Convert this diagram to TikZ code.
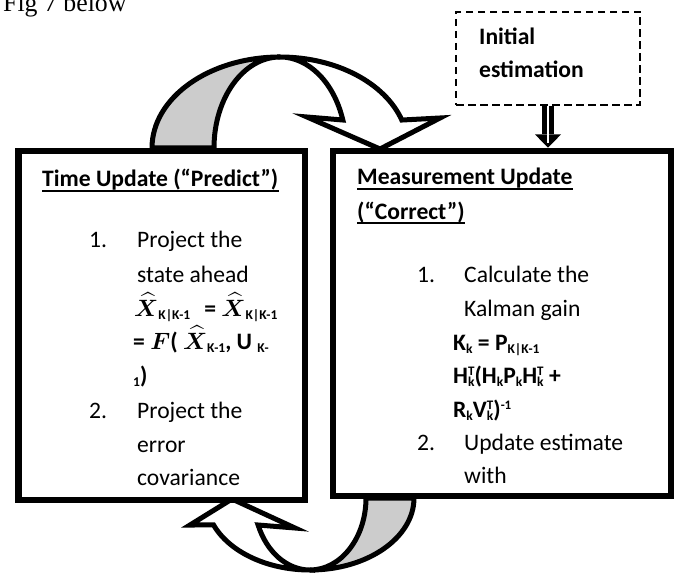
\RequirePackage{fix-cm}
\documentclass[tikz,border=0pt]{standalone}
\usepackage{amsmath}
\usepackage{fontspec}
\setmainfont{Carlito}
\newfontfamily\timesfont{Liberation Serif}
\usetikzlibrary{calc}
\definecolor{bandgrey}{RGB}{204,204,204}
\newcommand{\bodyfont}{\fontsize{23.6bp}{34bp}\selectfont}
\newcommand{\sbs}[1]{\raisebox{-3.5bp}[0pt][0pt]{\fontsize{13.5bp}{14bp}\selectfont #1}}
\newcommand{\sps}[1]{\raisebox{7.5bp}[0pt][0pt]{\fontsize{13bp}{14bp}\selectfont #1}}
\newcommand{\tk}{\rlap{\sps{T}}\sbs{k}}
\newcommand{\xhat}{$\boldsymbol{\widehat{X}}$}

\begin{document}
\begin{tikzpicture}[x=1bp,y=-1bp,line join=miter,
  box/.style={draw,line width=6.5bp,fill=white,inner sep=0pt},
  dbox/.style={draw,line width=2.8bp,dash pattern=on 7.5bp off 4.5bp,inner sep=0pt},
  band/.style={draw=black,line width=5bp},
  txt/.style={anchor=base west,inner sep=0pt,font=\bodyfont},
  txtb/.style={txt,font=\bodyfont\bfseries},
  uline/.style={line width=2bp}]
  \useasboundingbox (0,0) rectangle (679,573);
  \node[anchor=base west,inner sep=0pt,font=\timesfont\fontsize{25.8bp}{30bp}\selectfont] (figref) at (3,12) {Fig 7 below};

  % curved arrow on top, predict -> correct
  \filldraw[band,fill=bandgrey] (152,148) arc[start angle=180,end angle=270,x radius=128,y radius=91]
    arc[start angle=270,end angle=180,x radius=66,y radius=91] -- cycle;
  \filldraw[band,fill=white] (280,57) arc[start angle=270,end angle=342.1,x radius=128,y radius=91]
    -- (440,118) -- (380,149) -- (307,117) -- (342.8,120)
    arc[start angle=342.1,end angle=270,x radius=66,y radius=91] -- cycle;
  % curved arrow below, correct -> predict
  \filldraw[band,fill=bandgrey] (414,498) arc[start angle=0,end angle=90,x radius=104,y radius=72]
    arc[start angle=90,end angle=0,x radius=56,y radius=72] -- cycle;
  \filldraw[band,fill=white] (310,570) arc[start angle=90,end angle=158,x radius=104,y radius=72]
    -- (190,525) -- (232,499) -- (295,528) -- (258.1,525)
    arc[start angle=158,end angle=90,x radius=56,y radius=72] -- cycle;

  % the two boxes and the start box
  \node[box,minimum width=286.5bp,minimum height=349bp] (tupd) at (161.75,325.5) {};
  \node[box,minimum width=338bp,minimum height=345bp] (mupd) at (502,323.5) {};
  \node[dbox,minimum width=184bp,minimum height=93bp] (init) at (548,58.5) {};
  \node[txtb] (ini1) at (479,45) {Initial};
  \node[txtb] (ini2) at (479,78) {estimation};

  % hollow arrow into the correct box
  \draw[line width=12bp] (init.south) -- ++(0,28) coordinate (hbase);
  \fill ($(hbase)+(-13,0)$) -- ($(hbase)+(13,0)$) -- (init.south |- mupd.north) -- cycle;
  \draw[white,line width=1.2bp] (init.south) -- ($(hbase)+(0,9)$);

  % time update
  \node[txtb] (ttitle) at (42,187) {Time Update (“Predict”)};
  \draw[uline] ([yshift=-4bp]ttitle.base west) -- ([yshift=-4bp]ttitle.base east);
  \foreach \n/\x/\y/\t in {tn1/89/247/1.,tl1/137/247/Project the,tl2/137/282/state ahead,
      tn2/89/418/2.,tl6/137/418/Project the,tl7/137/452/error,tl8/137/485/covariance}
    {\node[txt] (\n) at (\x,\y) {\t};}
  \node[txtb] (tl3) at (134,316) {\xhat\sbs{K|K-1}\hspace{14bp}= \xhat\sbs{K|K-1}};
  \node[txtb] (tl4) at (133,349) {= $\boldsymbol{F}$( \xhat\sbs{K-1}, U \sbs{K-}};
  \node[txtb] (tl5) at (133,383) {\sbs{1})};

  % measurement update
  \node[txtb] (mtitle) at (357,185) {Measurement Update};
  \node[txtb] (mtitle2) at (357,219) {(“Correct”)};
  \draw[uline] ([yshift=-4bp]mtitle.base west) -- ([yshift=-4bp]mtitle.base east);
  \draw[uline] ([yshift=-4bp]mtitle2.base west) -- ([yshift=-4bp]mtitle2.base east);
  \foreach \n/\x/\y/\t in {mn1/417/282/1.,ml1/464/282/Calculate the,ml2/464/316/Kalman gain,
      mn2/417/450/2.,ml6/464/450/Update estimate,ml7/464/483/with}
    {\node[txt] (\n) at (\x,\y) {\t};}
  \node[txtb] (ml3) at (453,350) {K\sbs{k} = P\sbs{K|K-1}};
  \node[txtb] (ml4) at (453,383) {H\tk(H\sbs{k}P\sbs{k}H\tk{} +};
  \node[txtb] (ml5) at (453,417) {R\sbs{k}V\tk)\sps{-1}};
\end{tikzpicture}
\end{document}
